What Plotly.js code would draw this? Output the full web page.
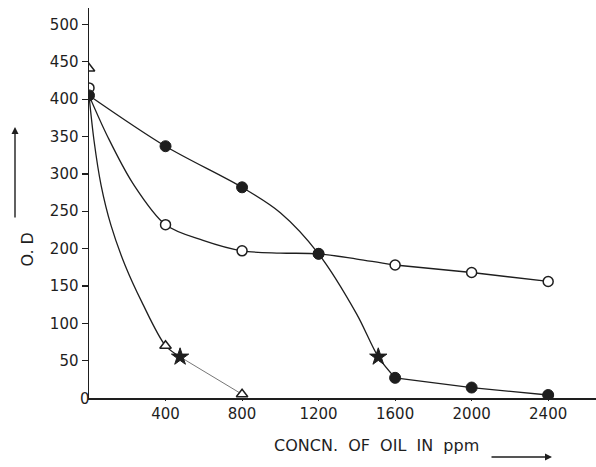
<!DOCTYPE html>
<html>
<head>
<meta charset="utf-8">
<script src="https://cdn.plot.ly/plotly-3.0.1.min.js"></script>
<style>html,body{margin:0;padding:0;background:#fff;}#chart{width:596px;height:467px;}</style>
</head>
<body>
<div id="chart"></div>
<script>
// ---- data ----
const conc = [0, 400, 800, 1200, 1600, 2000, 2400];
const filledOD = [405, 337, 282, 193, 27, 14, 4];
const openOD = [415, 232, 197, 193, 178, 168, 156];
const triConc = [0, 400, 800];
const triOD = [441, 70, 5];
const starConc = [476, 1512];
const starOD = [55, 55];

// traced curve paths
const filledCurveX = [0, 400, 800, 1000, 1200, 1400, 1512, 1600];
const filledCurveY = [405, 337, 282, 248, 193, 112, 55, 27];
const filledLineX = [1600, 2000, 2400];
const filledLineY = [27, 14, 4];

const openCurveX = [0, 99, 230, 400, 596, 800, 1000, 1200, 1400, 1600];
const openCurveY = [405, 349, 287, 232, 211, 197, 194, 193, 186, 178];
const openLineX = [1600, 2000, 2400];
const openLineY = [178, 168, 156];

const triCurveX = [0, 26, 63, 115, 188, 277, 400, 476];
const triCurveY = [405, 345, 285, 231, 178, 128, 70, 55];
const triTailX = [476, 800];
const triTailY = [55, 5];

const xTicks = [400, 800, 1200, 1600, 2000, 2400];
const yTicks = [50, 100, 150, 200, 250, 300, 350, 400, 450, 500];

const ink = '#1e1e1e';
const lineW = 1.3;
function ln(x, y, shape, extra) {
  return Object.assign({x: x, y: y, mode: 'lines', hoverinfo: 'skip',
    line: {color: ink, width: lineW, shape: shape, smoothing: 0.9}}, extra || {});
}

const traces = [
  ln(filledCurveX, filledCurveY, 'spline'),
  ln(filledLineX, filledLineY, 'linear'),
  ln(openCurveX, openCurveY, 'spline'),
  ln(openLineX, openLineY, 'linear'),
  ln(triCurveX, triCurveY, 'spline'),
  ln(triTailX, triTailY, 'linear', {line: {color: '#666', width: 0.9}}),
  {x: conc, y: openOD, mode: 'markers',
   marker: {symbol: 'circle', size: 10, color: '#fff', line: {color: ink, width: 1.5}}},
  {x: conc, y: filledOD, mode: 'markers',
   marker: {symbol: 'circle', size: 11, color: ink, line: {color: ink, width: 1}}},
  {x: triConc, y: triOD, mode: 'markers',
   marker: {symbol: 'triangle-up', size: 10, color: '#fff', line: {color: ink, width: 1.5}}},
  {x: starConc, y: starOD, mode: 'markers',
   marker: {symbol: 'star', size: 13, color: ink, line: {color: ink, width: 1}}}
];

const font = {family: 'DejaVu Sans, sans-serif', size: 15, color: ink};
const titleFont = {family: 'DejaVu Sans, sans-serif', size: 16, color: ink};

const layout = {
  width: 596, height: 467,
  margin: {l: 89, r: 0, t: 8, b: 69},
  paper_bgcolor: '#fff', plot_bgcolor: '#fff',
  showlegend: false,
  font: font,
  xaxis: {
    range: [0, 2650], showgrid: false, zeroline: false,
    showline: true, linecolor: ink, linewidth: 1.5,
    tickvals: xTicks, ticktext: xTicks.map(String),
    ticks: 'outside', ticklen: 1, tickcolor: ink,
    tickfont: font
  },
  yaxis: {
    range: [0, 522], showgrid: false, zeroline: false,
    showline: true, linecolor: ink, linewidth: 1.5,
    tickvals: yTicks, ticktext: yTicks.map(String),
    ticks: 'outside', ticklen: 6, tickcolor: ink, tickwidth: 1.3,
    tickfont: font
  },
  annotations: [
    {xref: 'paper', yref: 'paper', x: (78 - 89) / 507, y: (398 - 410) / 390,
     text: '0', showarrow: false, font: font},
    {xref: 'paper', yref: 'paper', x: (376 - 89) / 507, y: (398 - 457) / 390,
     text: 'CONCN.  OF  OIL  IN  ppm', showarrow: false, font: titleFont},
    {xref: 'paper', yref: 'paper', x: (552 - 89) / 507, y: (398 - 457) / 390,
     text: '', showarrow: true, arrowhead: 2, arrowsize: 1, arrowwidth: 1.4,
     arrowcolor: ink, ax: -62, ay: 0},
    {xref: 'paper', yref: 'paper', x: (15 - 89) / 507, y: (398 - 250) / 390,
     text: 'O. D', textangle: -90, showarrow: false, font: titleFont},
    {xref: 'paper', yref: 'paper', x: (15 - 89) / 507, y: (398 - 127) / 390,
     text: '', showarrow: true, arrowhead: 2, arrowsize: 1, arrowwidth: 1.4,
     arrowcolor: ink, ax: 0, ay: 92}
  ]
};

Plotly.newPlot('chart', traces, layout, {displayModeBar: false, staticPlot: true});
</script>
</body>
</html>
